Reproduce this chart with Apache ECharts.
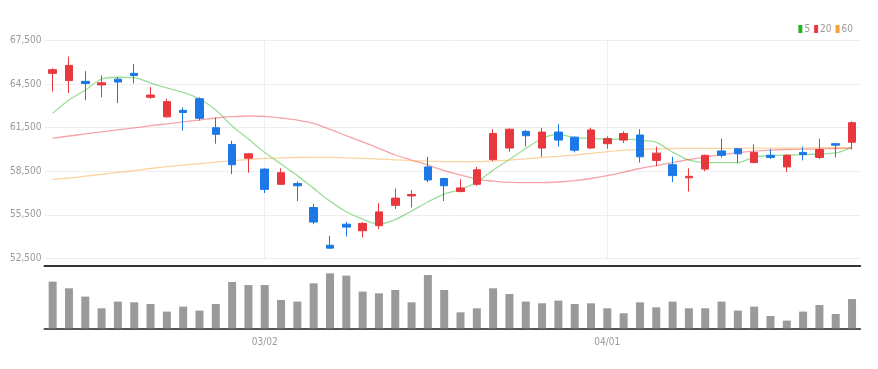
<!DOCTYPE html>
<html>
<head>
<meta charset="utf-8">
<script src="https://cdn.jsdelivr.net/npm/echarts@6/dist/echarts.min.js"></script>
<style>
  html, body { margin: 0; padding: 0; background: #fff; }
  #chart { width: 878px; height: 369px; }
</style>
</head>
<body>
<div id="chart"></div>
<script>
// trading days (MM/DD)
const dates = [
  '02/10', '02/11', '02/14', '02/15', '02/16', '02/17', '02/18', '02/21', '02/22', '02/23',
  '02/24', '02/25', '02/28', '03/02', '03/03', '03/04', '03/07', '03/08', '03/10', '03/11',
  '03/14', '03/15', '03/16', '03/17', '03/18', '03/21', '03/22', '03/23', '03/24', '03/25',
  '03/28', '03/29', '03/30', '03/31', '04/01', '04/04', '04/05', '04/06', '04/07', '04/08',
  '04/11', '04/12', '04/13', '04/14', '04/15', '04/18', '04/19', '04/20', '04/21', '04/22'
];
const labelDates = ['03/02', '04/01'];

const opens = [
  65250, 64750, 64700, 64450, 64850, 65250, 63600, 62250, 62700, 63500,
  61500, 60350, 59400, 58650, 57600, 57650, 56000, 53400, 54850, 54400,
  54750, 56150, 56800, 58800, 58000, 57100, 57600, 59300, 60100, 61250,
  60100, 61200, 60850, 60100, 60400, 60650, 61000, 59250, 58950, 58050,
  58650, 59900, 60050, 59100, 59600, 58800, 59800, 59450, 60400, 60500
];
const closes = [
  65500, 65800, 64550, 64600, 64650, 65100, 63750, 63300, 62550, 62150,
  61050, 58950, 59700, 57250, 58400, 57500, 55000, 53200, 54650, 54900,
  55700, 56650, 56900, 57900, 57500, 57350, 58600, 61100, 61400, 60950,
  61200, 60650, 59950, 61350, 60750, 61100, 59500, 59750, 58200, 58150,
  59600, 59600, 59700, 59800, 59450, 59600, 59650, 60000, 60300, 61850
];
const lows = [
  64000, 63900, 63400, 63600, 63200, 64550, 63500, 62200, 61300, 62000,
  60400, 58300, 58400, 57000, 57600, 56450, 54850, 53150, 54000, 53950,
  54500, 55900, 56000, 57750, 56450, 57050, 57500, 59200, 59850, 60200,
  59500, 60200, 59800, 60050, 60050, 60450, 59100, 58850, 57750, 57100,
  58500, 59450, 59050, 59050, 59350, 58450, 59250, 59350, 59450, 60000
];
const highs = [
  65600, 66400, 65400, 65100, 65000, 65900, 64300, 63500, 62900, 63600,
  62200, 60600, 59750, 58700, 58700, 57800, 56250, 54050, 55000, 55000,
  56300, 57300, 57200, 59500, 58050, 57950, 58800, 61400, 61450, 61350,
  61500, 61750, 60900, 61500, 60900, 61250, 61400, 60200, 59500, 58700,
  59650, 60750, 60100, 60350, 60050, 59650, 60200, 60750, 60400, 61950
];
const volumes = [
  9340000, 8000000, 6340000, 4000000, 5340000, 5200000, 4860000, 3340000, 4340000, 3540000,
  4860000, 9260000, 8660000, 8660000, 5660000, 5340000, 9000000, 11000000, 10540000, 7340000,
  7000000, 7660000, 5200000, 10660000, 7660000, 3200000, 4000000, 8000000, 6860000, 5340000,
  5000000, 5540000, 4860000, 5000000, 4000000, 3000000, 5200000, 4200000, 5340000, 4000000,
  4000000, 5340000, 3540000, 4340000, 2460000, 1540000, 3340000, 4660000, 2860000, 5860000
];
// moving averages
const ma5 = [
  62490, 63410, 64100, 64860, 64980, 64960, 64580, 64240, 63930, 63480,
  62720, 61620, 60720, 59790, 59000, 58200, 57320, 56440, 55710, 55200,
  54860, 55170, 55760, 56380, 56930, 57240, 57760, 58580, 59310, 60070,
  60760, 61040, 60820, 60770, 60720, 60720, 60650, 60490, 59820, 59270,
  59100, 59100, 59100, 59480, 59580, 59620, 59650, 59690, 59760, 60170
];
const ma20 = [
  60770, 60930, 61070, 61220, 61360, 61490, 61640, 61770, 61910, 62030,
  62170, 62260, 62310, 62290, 62170, 62030, 61800, 61390, 60950, 60530,
  60080, 59620, 59270, 58930, 58550, 58240, 57960, 57820, 57730, 57720,
  57720, 57760, 57850, 58000, 58200, 58440, 58690, 58890, 59100, 59310,
  59480, 59650, 59790, 59890, 59960, 60000, 60020, 60040, 60070, 60100
];
const ma60 = [
  57940, 58030, 58160, 58290, 58420, 58550, 58690, 58820, 58930, 59030,
  59130, 59220, 59310, 59390, 59420, 59450, 59460, 59460, 59420, 59390,
  59340, 59290, 59240, 59200, 59170, 59160, 59160, 59200, 59270, 59360,
  59450, 59530, 59620, 59730, 59860, 59940, 60000, 60040, 60070, 60080,
  60080, 60080, 60080, 60100, 60100, 60100, 60100, 60120, 60120, 60150
];
const maNames = ['5', '20', '60'];

const UP = '#e8383d';
const DOWN = '#1b78e6';
const MA_COLORS = ['#22b522', '#e8383d', '#f7a035'];
const FONT = '"DejaVu Sans Condensed", "Liberation Sans Narrow", "Roboto", sans-serif';

const chart = echarts.init(document.getElementById('chart'));
const showDate = (i, v) => labelDates.includes(v);
const candles = dates.map((d, i) => [opens[i], closes[i], lows[i], highs[i]]);
const maData = [ma5, ma20, ma60];

chart.setOption({
  animation: false,
  legend: {
    right: 20,
    top: 19,
    icon: 'rect',
    itemWidth: 4,
    itemHeight: 8,
    itemGap: 4,
    textStyle: { fontSize: 10, color: '#999', fontFamily: FONT, padding: [0, 0, 0, -3] },
    data: maNames,
  },
  grid: [
    { left: 44.5, right: 17.8, top: 40.7, bottom: 110.7 },
    { left: 44.5, right: 17.8, top: 273.3, bottom: 40.7 },
  ],
  xAxis: [
    {
      type: 'category',
      gridIndex: 0,
      data: dates,
      offset: 7.7,
      axisLine: { lineStyle: { color: '#333', width: 2 } },
      axisTick: { show: false },
      axisLabel: { show: false },
      splitLine: { show: false },
    },
    {
      type: 'category',
      gridIndex: 1,
      data: dates,
      axisLine: { lineStyle: { color: '#555', width: 2 } },
      axisTick: { interval: showDate, alignWithLabel: true, length: 4, lineStyle: { color: '#333' } },
      axisLabel: { interval: showDate, color: '#999', fontSize: 10, fontFamily: FONT, margin: 9 },
      splitLine: { show: false },
    },
  ],
  yAxis: [
    {
      type: 'value',
      gridIndex: 0,
      min: 52500,
      max: 67500,
      interval: 3000,
      axisLine: { show: false },
      axisTick: { show: false },
      axisLabel: {
        color: '#999', fontSize: 10, fontFamily: FONT, margin: 3,
        formatter: (v) => v.toLocaleString('en-US'),
      },
      splitLine: { lineStyle: { color: '#eee' } },
    },
    {
      type: 'value',
      gridIndex: 1,
      min: 0,
      max: 11000000,
      axisLine: { show: false },
      axisTick: { show: false },
      axisLabel: { show: false },
      splitLine: { show: false },
    },
  ],
  series: [
    {
      type: 'candlestick',
      xAxisIndex: 0,
      yAxisIndex: 0,
      data: candles,
      barWidth: 8,
      itemStyle: { color: UP, color0: DOWN, borderColor: UP, borderColor0: DOWN, borderWidth: 1 },
      markLine: {
        silent: true,
        symbol: 'none',
        label: { show: false },
        lineStyle: { color: '#eee', type: 'solid', width: 1 },
        data: labelDates.map((d) => ({ xAxis: d })),
        z: 0,
      },
    },
    ...maNames.map((name, k) => ({
      name,
      type: 'line',
      xAxisIndex: 0,
      yAxisIndex: 0,
      data: maData[k],
      smooth: 0.3,
      symbol: 'none',
      color: MA_COLORS[k],
      lineStyle: { width: 1.3, color: MA_COLORS[k], opacity: 0.45 },
      z: 1,
    })),
    {
      type: 'bar',
      xAxisIndex: 1,
      yAxisIndex: 1,
      data: volumes,
      barWidth: 8,
      itemStyle: { color: '#9a9a9a' },
    },
  ],
});
</script>
</body>
</html>
